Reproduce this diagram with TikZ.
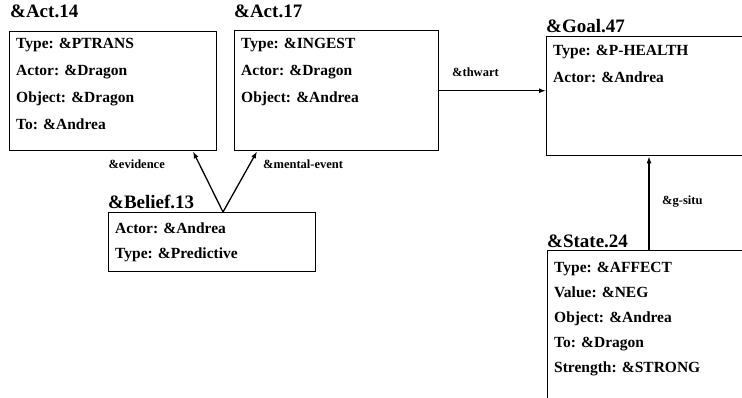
\documentclass[tikz,border=0pt]{standalone}
\usepackage{fontspec}
\setmainfont{Liberation Serif}
\usetikzlibrary{calc,arrows.meta}

\tikzset{
  frame/.style={draw, line width=1.4pt, rectangle, anchor=north west, inner sep=0pt},
  frametitle/.style={anchor=base west, inner sep=0pt,
    font=\fontsize{19}{19}\selectfont\bfseries},
  slots/.style={anchor=north west, inner sep=0pt, align=left,
    font=\fontsize{15.5}{27}\selectfont\bfseries},
  rel/.style={inner sep=0pt, font=\fontsize{12.5}{13}\selectfont\bfseries},
  link/.style={line width=1.3pt, -{Latex[length=7pt,width=5pt]}}
}

\begin{document}
\begin{tikzpicture}[x=1pt,y=-1pt]
  \useasboundingbox (0,0) rectangle (742,397);
  \clip (0,0) rectangle (742,397);

  % frames
  \node[frame, minimum width=207pt, minimum height=119pt] (act14) at (9,31) {};
  \node[frame, minimum width=204pt, minimum height=120pt] (act17) at (234,30) {};
  \node[frame, minimum width=260pt, minimum height=119pt] (goal) at (546,36) {};
  \node[frame, minimum width=207pt, minimum height=59pt] (belief) at (108,212) {};
  \node[frame, minimum width=260pt, minimum height=180pt] (state) at (547,250) {};

  % frame titles
  \node[frametitle] (t14) at ($(act14.north west)+(1,-14)$) {\&Act.14};
  \node[frametitle] (t17) at ($(act17.north west)+(0,-13)$) {\&Act.17};
  \node[frametitle] (tgoal) at ($(goal.north west)+(0,-4)$) {\&Goal.47};
  \node[frametitle] (tbel) at ($(belief.north west)+(0,-4)$) {\&Belief.13};
  \node[frametitle] (tstate) at ($(state.north west)+(0,-3)$) {\&State.24};

  % slot lists
  \node[slots] (s14) at ($(act14.north west)+(7,7)$)
    {Type: \&PTRANS\\Actor: \&Dragon\\Object: \&Dragon\\To: \&Andrea};
  \node[slots] (s17) at ($(act17.north west)+(7,8)$)
    {Type: \&INGEST\\Actor: \&Dragon\\Object: \&Andrea};
  \node[slots] (sgoal) at ($(goal.north west)+(7,9)$)
    {Type: \&P-HEALTH\\Actor: \&Andrea};
  \node[slots, font=\fontsize{15.5}{25}\selectfont\bfseries] (sbel) at ($(belief.north west)+(7,11)$)
    {Actor: \&Andrea\\Type: \&Predictive};
  \node[slots, font=\fontsize{15.5}{25}\selectfont\bfseries] (sstate) at ($(state.north west)+(7,12)$)
    {Type: \&AFFECT\\Value: \&NEG\\Object: \&Andrea\\To: \&Dragon\\Strength: \&STRONG};

  % connector end points on the frame borders
  \coordinate (bfork) at ($(belief.north west)+(115,0)$);
  \coordinate (evend) at ($(act14.south west)+(184,0)$);
  \coordinate (meend) at ($(act17.south west)+(23,0)$);
  \coordinate (gsend) at ($(goal.south west)+(103,0)$);
  \coordinate (gsstart) at (state.north -| gsend);

  % relations
  \draw[link] (bfork) -- (evend);
  \draw[link] (bfork) -- (meend);
  \draw[link] (act17.east) -- (goal.west |- act17.east);
  \draw[link] (gsstart) -- (gsend);

  % relation labels
  \node[rel, anchor=base east] (lev) at (165,168) {\&evidence};
  \node[rel, anchor=base west] (lme) at (263,168) {\&mental-event};
  \node[rel, anchor=base west] (lth) at (452,76) {\&thwart};
  \node[rel, anchor=base west] (lgs) at (662,204) {\&g-situ};
\end{tikzpicture}
\end{document}
